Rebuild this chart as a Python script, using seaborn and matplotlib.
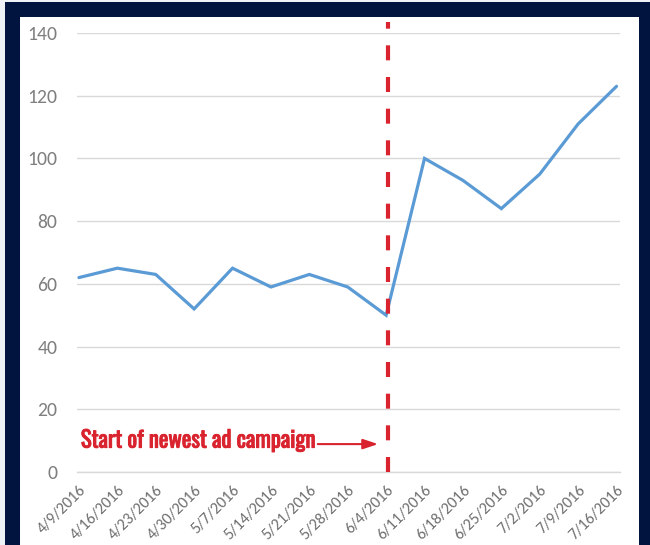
import matplotlib
matplotlib.use("Agg")
import matplotlib.pyplot as plt
from matplotlib.patches import Rectangle
from matplotlib import font_manager
import matplotlib.patheffects as pe
import seaborn as sns
import pandas as pd
import numpy as np

dates = ["4/9/2016", "4/16/2016", "4/23/2016", "4/30/2016", "5/7/2016",
         "5/14/2016", "5/21/2016", "5/28/2016", "6/4/2016", "6/11/2016",
         "6/18/2016", "6/25/2016", "7/2/2016", "7/9/2016", "7/16/2016"]
values = [62, 65, 63, 52, 65, 59, 63, 59, 50, 100, 93, 84, 95, 111, 123]
y_ticks = [0, 20, 40, 60, 80, 100, 120, 140]
campaign_label = "Start of newest ad campaign"
campaign_index = 8

sns.set_style("white")
ttf = font_manager.fontManager.ttflist
installed = {f.name for f in ttf}
tick_family = [f for f in ["Carlito", "Lato", "DejaVu Sans"] if f in installed][0]
note_family = [f for f in ["Oswald", "Antonio", "Fjalla One", "Roboto Condensed", "DejaVu Sans"] if f in installed][0]
plt.rcParams['font.family'] = [tick_family, 'DejaVu Sans']

def _wt(f):
    try:
        return int(f.weight)
    except Exception:
        return 700 if "bold" in str(f.weight).lower() else 400

note_files = [f for f in ttf if f.name == note_family and f.style == "normal"]
note_files.sort(key=lambda f: abs(_wt(f) - 600))
note_fp = font_manager.FontProperties(fname=note_files[0].fname) if note_files else \
    font_manager.FontProperties(family=note_family, weight="bold")

df = pd.DataFrame({"pos": np.arange(len(dates)), "value": values})

fig = plt.figure(figsize=(6.5, 5.45), dpi=100, facecolor="#eef1f6")
W, H = 650, 545
navy = "#00143f"
fig.patches.append(Rectangle((5 / W, 0), 1 - 5 / W, 1 - 2 / H, transform=fig.transFigure,
                             facecolor=navy, edgecolor="none", zorder=-10))
fig.patches.append(Rectangle((20 / W, 0), (639 - 20) / W, 1 - 17 / H, transform=fig.transFigure,
                             facecolor="white", edgecolor="none", zorder=-9))

ax = fig.add_axes([77 / W, 1 - 472 / H, (620 - 77) / W, (472 - 33) / H])
ax.set_facecolor("none")

sns.lineplot(data=df, x="pos", y="value", ax=ax, color="#5b9bd5", linewidth=2.3,
             solid_joinstyle="miter", zorder=3)

ax.set_xlim(-0.05, len(dates) - 1 + 0.09)
ax.set_ylim(0, 140)
ax.set_yticks(y_ticks)
ax.set_yticklabels([str(v) for v in y_ticks])
ax.set_xticks(np.arange(len(dates)))
ax.set_xticklabels(dates)
ax.tick_params(axis="y", length=0, pad=14, labelcolor="#7f7f7f")
ax.tick_params(axis="x", length=5, width=1, color="#d9d9d9", pad=3, labelcolor="#6f6f6f")
ax.set_xlabel("")
ax.set_ylabel("")
ax.grid(axis="y", color="#d9d9d9", linewidth=1)
ax.set_axisbelow(True)
for s in ["top", "right", "left"]:
    ax.spines[s].set_visible(False)
ax.spines["bottom"].set_color("#d9d9d9")
ax.spines["bottom"].set_linewidth(1)

red = "#d9232e"
xline = campaign_index + 0.05
ax.plot([xline, xline], [0, 143.5], color=red, linewidth=3, dashes=(3.6, 4.0),
        clip_on=False, zorder=4, solid_capstyle="butt", dash_capstyle="butt")

note_fp.set_size(16)
note = ax.text(0.05, 10.0, campaign_label, color=red, fontproperties=note_fp,
               va="center", ha="left",
               path_effects=[pe.withStroke(linewidth=0.7, foreground=red)])

ax.annotate("", xy=(7.79, 8.9), xytext=(6.22, 8.9),
            arrowprops=dict(arrowstyle="-|>,head_length=0.9,head_width=0.3",
                            color=red, linewidth=1.5, shrinkA=0, shrinkB=0))

renderer = fig.canvas.get_renderer()
def measured_width(artist):
    return artist.get_window_extent(renderer=renderer).width

def fit_size(text, family, target_px):
    probe = fig.text(0, 0, text, fontsize=20, family=[family, "DejaVu Sans"])
    w = measured_width(probe)
    probe.remove()
    return 20 * target_px / w

note_fp.set_size(16 * 236.0 / measured_width(note))
note.set_fontproperties(note_fp)
ysize = fit_size("140", tick_family, 30)
xsize = fit_size("4/16/2016", tick_family, 70)

for lab in ax.get_yticklabels():
    lab.set_fontsize(ysize)
    lab.set_color("#7f7f7f")
for lab in ax.get_xticklabels():
    lab.set_fontsize(xsize)
    lab.set_rotation(45)
    lab.set_ha("right")
    lab.set_rotation_mode("anchor")
    lab.set_color("#6f6f6f")

fig.savefig("out.png", dpi=100, facecolor=fig.get_facecolor())
